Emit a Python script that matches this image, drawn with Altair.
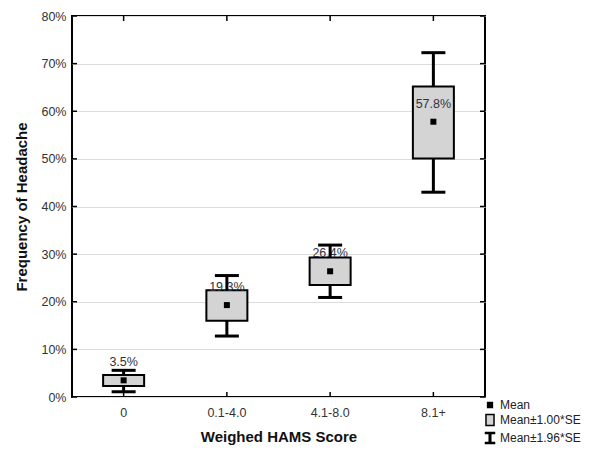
import altair as alt
import pandas as pd

categories = ["0", "0.1-4.0", "4.1-8.0", "8.1+"]
means = [3.5, 19.3, 26.4, 57.8]
box_low = [2.3, 16.0, 23.5, 50.1]
box_high = [4.6, 22.4, 29.3, 65.2]
whisker_low = [1.1, 12.8, 20.9, 43.0]
whisker_high = [5.6, 25.5, 31.9, 72.3]
mean_labels = ["3.5%", "19.3%", "26.4%", "57.8%"]
y_ticks = [0, 10, 20, 30, 40, 50, 60, 70, 80]
legend_items = ["Mean", "Mean\u00b11.00*SE", "Mean\u00b11.96*SE"]

W, H = 413, 381
FONT = "Liberation Sans"

df = pd.DataFrame({
    "cat": categories, "mean": means, "blo": box_low, "bhi": box_high,
    "wlo": whisker_low, "whi": whisker_high, "lab": mean_labels,
})
yt_df = pd.DataFrame({"v": y_ticks})
cat_df = pd.DataFrame({"cat": categories})
leg_df = pd.DataFrame({"item": legend_items})

xscale = alt.Scale(domain=categories, paddingInner=0, paddingOuter=0)
yscale = alt.Scale(domain=[0, 80], nice=False, zero=True)

x_axis = alt.Axis(
    title="Weighed HAMS Score", labelAngle=0, ticks=False, tickSize=0, domain=False,
    labelPadding=9, labelFontSize=12.5, labelFont=FONT, labelColor="#333333",
    titleFont=FONT, titleFontSize=15, titleFontWeight="bold", titleColor="#111111",
    titlePadding=11,
)
y_axis = alt.Axis(
    title="Frequency of Headache", values=y_ticks, labelExpr="datum.value + '%'",
    grid=True, gridColor="#dcdcdc", gridWidth=1, ticks=False, tickSize=0, domain=False,
    labelPadding=6, labelFontSize=12.5, labelFont=FONT, labelColor="#333333",
    titleFont=FONT, titleFontSize=15, titleFontWeight="bold", titleColor="#111111",
    titlePadding=11,
)


def X():
    return alt.X("cat:N", scale=xscale, sort=categories, axis=x_axis,
                 title="Weighed HAMS Score")


def Y(field):
    return alt.Y(field, scale=yscale, axis=y_axis, title="Frequency of Headache")


base = alt.Chart(df)

boxes = base.mark_bar(size=41, fill="#d4d4d4", stroke="black", strokeWidth=2).encode(
    x=X(), y=Y("blo:Q"), y2="bhi:Q",
)
labels = base.mark_text(dy=-14, baseline="alphabetic", fontSize=12.5, font=FONT,
                        color="#2e3440").encode(
    x=X(), y=Y("mean:Q"), text="lab:N"
)
stem_hi = base.mark_rule(strokeWidth=3, color="black").encode(
    x=X(), y=Y("bhi:Q"), y2="whi:Q"
)
stem_lo = base.mark_rule(strokeWidth=3, color="black").encode(
    x=X(), y=Y("wlo:Q"), y2="blo:Q"
)
cap_hi = base.mark_tick(size=24, thickness=3, color="black", opacity=1).encode(
    x=X(), y=Y("whi:Q")
)
cap_lo = base.mark_tick(size=24, thickness=3, color="black", opacity=1).encode(
    x=X(), y=Y("wlo:Q")
)
mean_pts = base.mark_square(size=36, color="black", opacity=1, filled=True).encode(
    x=X(), y=Y("mean:Q")
)

# inward ticks on the frame
yt = alt.Chart(yt_df)
ytick_l = yt.mark_rule(color="black", strokeWidth=1.5).encode(
    y=Y("v:Q"), x=alt.value(0), x2=alt.value(5)
)
ytick_r = yt.mark_rule(color="black", strokeWidth=1.5).encode(
    y=Y("v:Q"), x=alt.value(W - 5), x2=alt.value(W)
)
ct = alt.Chart(cat_df)
xtick_t = ct.mark_rule(color="black", strokeWidth=1.5).encode(
    x=X(), y=alt.value(0), y2=alt.value(5)
)
xtick_b = ct.mark_rule(color="black", strokeWidth=1.5).encode(
    x=X(), y=alt.value(H - 5), y2=alt.value(H)
)

sq = "M-0.4,-0.4H0.4V0.4H-0.4Z"
boxp = "M-0.67,-0.92H0.67V0.92H-0.67Z"
ibeam = "M-0.75,-0.92H0.75V-0.76H0.13V0.76H0.75V0.92H-0.75V0.76H-0.13V-0.76H-0.75Z"

leg = alt.Legend(
    title=None, orient="none", legendX=411, legendY=382, labelFont=FONT,
    labelFontSize=12, labelColor="#222222", symbolSize=144, rowPadding=0,
    labelOffset=3, symbolStrokeWidth=1.5, symbolOpacity=1,
)
legend_layer = alt.Chart(leg_df).mark_point(filled=True, strokeWidth=1.5).encode(
    shape=alt.Shape("item:N", scale=alt.Scale(domain=legend_items, range=[sq, boxp, ibeam]),
                    sort=legend_items, legend=leg),
    fill=alt.Fill("item:N", scale=alt.Scale(domain=legend_items,
                                            range=["black", "#d4d4d4", "black"]),
                  sort=legend_items, legend=leg),
    stroke=alt.Stroke("item:N", scale=alt.Scale(domain=legend_items,
                                                range=["black", "black", "black"]),
                      sort=legend_items, legend=leg),
    size=alt.value(0),
    x=alt.value(0),
    y=alt.value(0),
)

chart = alt.layer(
    boxes, labels, stem_hi, stem_lo, cap_hi, cap_lo, mean_pts,
    ytick_l, ytick_r, xtick_t, xtick_b, legend_layer,
).properties(
    width=W, height=H,
    background="white",
    autosize=alt.AutoSizeParams(type="none"),
    padding={"left": 64, "top": 8, "right": 103, "bottom": 53},
).configure_view(
    stroke="black", strokeWidth=2
)

chart.save("out.html", embed_options={"renderer": "svg", "actions": False})
